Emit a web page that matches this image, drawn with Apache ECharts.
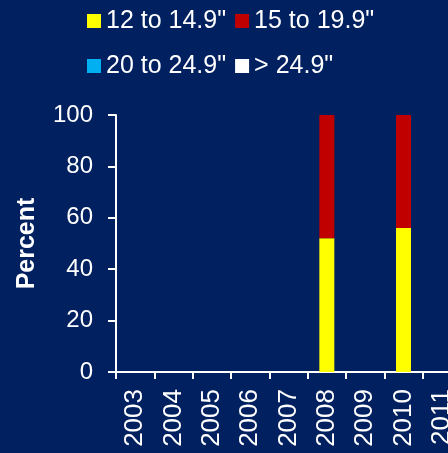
<!DOCTYPE html>
<html>
<head>
<meta charset="utf-8">
<script src="https://cdn.jsdelivr.net/npm/echarts@6/dist/echarts.min.js"></script>
<style>
html,body{margin:0;padding:0;background:#002060;}
#chart{width:448px;height:453px;}
</style>
</head>
<body>
<div id="chart"></div>
<script>
var years = ['2003','2004','2005','2006','2007','2008','2009','2010','2011'];
var seriesNames = ['12 to 14.9"', '15 to 19.9"', '20 to 24.9"', '> 24.9"'];
var s12to149 = [null, null, null, null, null, 52, null, 56, null];
var s15to199 = [null, null, null, null, null, 48, null, 44, null];
var s20to249 = [null, null, null, null, null, null, null, null, null];
var sOver249 = [null, null, null, null, null, null, null, null, null];
var yTicks = [0, 20, 40, 60, 80, 100];
var colors = ['#FFFF00', '#C00000', '#00B0F0', '#FFFFFF'];
var allData = [s12to149, s15to199, s20to249, sOver249];

var FONT = '"Liberation Sans", Arial, sans-serif';
var chart = echarts.init(document.getElementById('chart'));

var series = seriesNames.map(function (n, i) {
  return {
    name: n, type: 'bar', stack: 'total', data: allData[i],
    barWidth: 15, itemStyle: { color: colors[i] }
  };
});

function legendRow(names, top) {
  return {
    data: names, top: top, left: 87, orient: 'horizontal',
    itemWidth: 14, itemHeight: 14, itemGap: 9, icon: 'rect',
    padding: 0,
    textStyle: { color: '#FFFFFF', fontSize: 25, fontFamily: FONT, lineHeight: 26 }
  };
}

chart.setOption({
  backgroundColor: '#002060',
  animation: false,
  color: colors,
  legend: [legendRow(seriesNames.slice(0, 2), 8), legendRow(seriesNames.slice(2, 4), 53)],
  grid: { left: 116, top: 115, bottom: 81, right: -13, containLabel: false, outerBoundsMode: 'none' },
  xAxis: {
    type: 'category', data: years,
    axisLine: { lineStyle: { color: '#FFFFFF', width: 2 } },
    axisTick: { show: true, length: 7, lineStyle: { color: '#FFFFFF', width: 2 } },
    axisLabel: { color: '#FFFFFF', rotate: 90, fontSize: 26, fontFamily: FONT, margin: 17, interval: 0, hideOverlap: false }
  },
  yAxis: {
    type: 'value', min: yTicks[0], max: yTicks[yTicks.length - 1], interval: 20,
    name: 'Percent', nameLocation: 'middle', nameGap: 76,
    nameTextStyle: { color: '#FFFFFF', fontSize: 25, fontWeight: 'bold', fontFamily: FONT },
    splitLine: { show: false },
    axisLine: { show: true, lineStyle: { color: '#FFFFFF', width: 2 } },
    axisTick: { show: true, length: 8, lineStyle: { color: '#FFFFFF', width: 2 } },
    axisLabel: { color: '#FFFFFF', fontSize: 24, fontFamily: FONT, margin: 23 }
  },
  series: series
});
</script>
</body>
</html>
